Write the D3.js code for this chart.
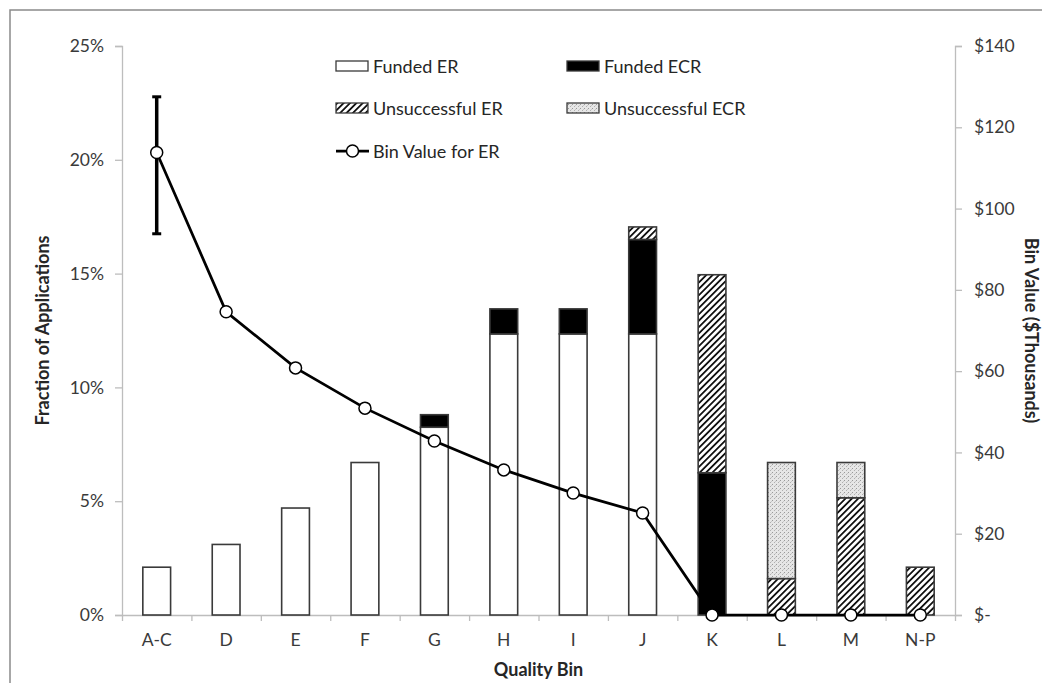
<!DOCTYPE html>
<html><head><meta charset="utf-8">
<script src="https://cdn.jsdelivr.net/npm/d3@7"></script>
<style>
html,body{margin:0;padding:0;background:#fff;}
svg text{font-family:Lato,"Open Sans",sans-serif;}
</style></head>
<body><svg id="c" width="1042" height="683"></svg>
<script>
const categories = ["A-C","D","E","F","G","H","I","J","K","L","M","N-P"];
const fundedER       = [2.1, 3.1, 4.7, 6.7, 8.25, 12.35, 12.35, 12.35, 0, 0, 0, 0];
const fundedECR      = [0, 0, 0, 0, 0.55, 1.1, 1.1, 4.15, 6.25, 0, 0, 0];
const unsuccessfulER = [0, 0, 0, 0, 0, 0, 0, 0.55, 8.7, 1.6, 5.15, 2.1];
const unsuccessfulECR= [0, 0, 0, 0, 0, 0, 0, 0, 0, 5.1, 1.55, 0];
const binValue       = [113.8, 74.6, 60.8, 50.9, 42.8, 35.7, 30.0, 25.1, 0, 0, 0, 0];
const errUp   = [13.7];
const errDown = [20.0];
const leftTicks  = [0, 5, 10, 15, 20, 25];
const rightTicks = [0, 20, 40, 60, 80, 100, 120, 140];
const seriesNames = ["Funded ER","Funded ECR","Unsuccessful ER","Unsuccessful ECR"];

const svg = d3.select("#c");
const L = 122, R = 955, T = 46, B = 615;

// frame
svg.append("rect").attr("x",10).attr("y",10).attr("width",1100).attr("height",800)
  .attr("fill","none").attr("stroke","#8a8a8a").attr("stroke-width",1.5);

const defs = svg.append("defs");
const hatch = defs.append("pattern").attr("id","hatch").attr("patternUnits","userSpaceOnUse")
  .attr("width",4.5).attr("height",4.5).attr("patternTransform","rotate(45)");
hatch.append("rect").attr("width",4.5).attr("height",4.5).attr("fill","#fff");
hatch.append("rect").attr("x",0).attr("width",1.8).attr("height",4.5).attr("fill","#111");
const dots = defs.append("pattern").attr("id","dots").attr("patternUnits","userSpaceOnUse")
  .attr("width",4).attr("height",4);
dots.append("rect").attr("width",4).attr("height",4).attr("fill","#e6e6e6");
dots.append("rect").attr("x",0).attr("y",0).attr("width",1).attr("height",1).attr("fill","#9a9a9a");
dots.append("rect").attr("x",2).attr("y",2).attr("width",1).attr("height",1).attr("fill","#b0b0b0");
dots.append("rect").attr("x",3).attr("y",1).attr("width",1).attr("height",1).attr("fill","#c8c8c8");

const fills = {"Funded ER":"#ffffff","Funded ECR":"#000000","Unsuccessful ER":"url(#hatch)","Unsuccessful ECR":"url(#dots)"};

const x = d3.scaleBand().domain(categories).range([L,R]).paddingInner(0.6).paddingOuter(0.3);
const xl = d3.scaleLinear().domain([0,categories.length]).range([L,R]);
const y = d3.scaleLinear().domain([0,25]).range([B,T]);
const y2 = d3.scaleLinear().domain([0,140]).range([B,T]);

const tickCol = "#3a3a3a", axisCol = "#bdbdbd";

// axes
const gl = svg.append("g").attr("transform",`translate(${L},0)`)
  .call(d3.axisLeft(y).tickValues(leftTicks).tickFormat(d=>d+"%").tickSize(7).tickPadding(11));
const gr = svg.append("g").attr("transform",`translate(${R},0)`)
  .call(d3.axisRight(y2).tickValues(rightTicks).tickFormat(d=>d===0?"$-":"$"+d).tickSize(7).tickPadding(12));
const gb = svg.append("g").attr("transform",`translate(0,${B})`)
  .call(d3.axisBottom(xl).tickValues(d3.range(categories.length+1)).tickFormat("").tickSize(6).tickSizeOuter(0));
const gbl = svg.append("g").attr("transform",`translate(0,${B})`)
  .call(d3.axisBottom(x).tickSize(0).tickPadding(19));
gbl.select(".domain").remove();
[gl,gr,gb].forEach(g=>{g.selectAll("path,line").attr("stroke",axisCol).attr("stroke-width",1.3);});
[gl,gr,gbl].forEach(g=>g.selectAll("text").attr("font-size",17.5).attr("fill",tickCol));
gr.selectAll("text").attr("text-anchor","start");

// stacked bars
const rows = categories.map((c,i)=>({cat:c,"Funded ER":fundedER[i],"Funded ECR":fundedECR[i],"Unsuccessful ER":unsuccessfulER[i],"Unsuccessful ECR":unsuccessfulECR[i]}));
const stack = d3.stack().keys(seriesNames)(rows);
const bars = svg.append("g");
stack.forEach(s=>{
  bars.selectAll(null).data(s.filter(d=>d[1]-d[0]>0)).join("rect")
    .attr("x",d=>x(d.data.cat)).attr("width",x.bandwidth())
    .attr("y",d=>y(d[1])).attr("height",d=>y(d[0])-y(d[1]))
    .attr("fill",fills[s.key]).attr("stroke","#3a3a3a").attr("stroke-width",1.6);
});

// error bar
const cx = c=>x(c)+x.bandwidth()/2;
const eg = svg.append("g");
errUp.forEach((u,i)=>{
  const xc = cx(categories[i]);
  eg.append("line").attr("x1",xc).attr("x2",xc).attr("y1",y2(binValue[i]+u)).attr("y2",y2(binValue[i]-errDown[i]))
    .attr("stroke","#000").attr("stroke-width",3.5);
  [binValue[i]+u, binValue[i]-errDown[i]].forEach(v=>{
    eg.append("line").attr("x1",xc-4.5).attr("x2",xc+4.5).attr("y1",y2(v)).attr("y2",y2(v))
      .attr("stroke","#000").attr("stroke-width",3);
  });
});

// line
const line = d3.line().x((d,i)=>cx(categories[i])).y(d=>y2(d));
svg.append("path").datum(binValue).attr("d",line).attr("fill","none").attr("stroke","#000").attr("stroke-width",2.75);
svg.append("g").selectAll("circle").data(binValue).join("circle")
  .attr("cx",(d,i)=>cx(categories[i])).attr("cy",d=>y2(d)).attr("r",6)
  .attr("fill","#fff").attr("stroke","#000").attr("stroke-width",1.5);

// axis titles
svg.append("text").attr("transform",`translate(44,${(T+B)/2}) rotate(-90)`).attr("text-anchor","middle")
  .attr("dominant-baseline","middle").attr("font-size",18).attr("font-weight","bold").attr("fill","#262626")
  .text("Fraction of Applications");
svg.append("text").attr("transform",`translate(1030,${(T+B)/2}) rotate(90)`).attr("text-anchor","middle")
  .attr("dominant-baseline","middle").attr("font-size",18).attr("font-weight","bold").attr("fill","#262626")
  .text("Bin Value ($Thousands)");
svg.append("text").attr("x",(L+R)/2).attr("y",676).attr("text-anchor","middle")
  .attr("font-size",18).attr("font-weight","bold").attr("fill","#262626").text("Quality Bin");

// legend
const leg = svg.append("g");
const legItems = [
  {name:"Funded ER", x:336, y:66},
  {name:"Funded ECR", x:567, y:66},
  {name:"Unsuccessful ER", x:336, y:108},
  {name:"Unsuccessful ECR", x:567, y:108}
];
legItems.forEach(it=>{
  leg.append("rect").attr("x",it.x).attr("y",it.y-5).attr("width",32).attr("height",10)
    .attr("fill",fills[it.name]).attr("stroke","#3a3a3a").attr("stroke-width",1.3);
  leg.append("text").attr("x",it.x+37).attr("y",it.y).attr("dominant-baseline","central")
    .attr("font-size",18).attr("fill","#262626").text(it.name);
});
leg.append("line").attr("x1",336).attr("x2",369).attr("y1",151).attr("y2",151).attr("stroke","#000").attr("stroke-width",2.75);
leg.append("circle").attr("cx",352.5).attr("cy",151).attr("r",6).attr("fill","#fff").attr("stroke","#000").attr("stroke-width",1.5);
leg.append("text").attr("x",373).attr("y",151).attr("dominant-baseline","central")
  .attr("font-size",18).attr("fill","#262626").text("Bin Value for ER");
</script></body></html>
